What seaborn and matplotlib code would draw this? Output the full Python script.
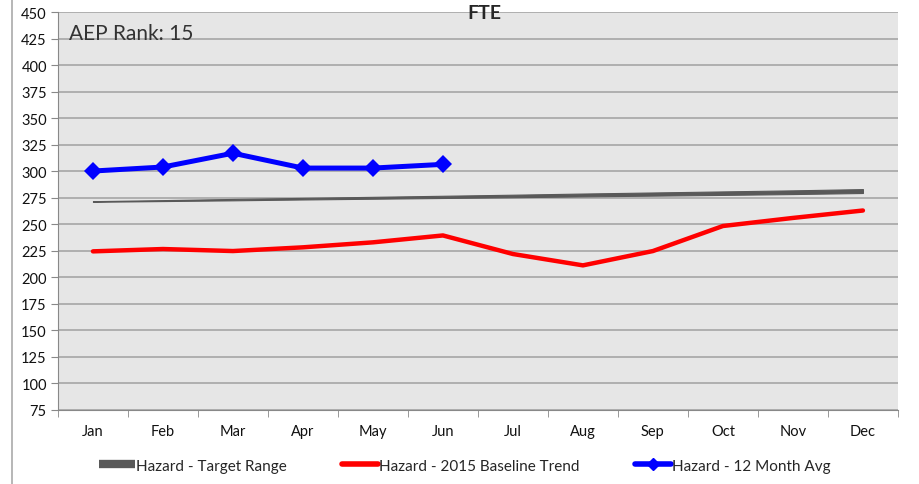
import numpy as np
import pandas as pd
import matplotlib
matplotlib.use("Agg")
import matplotlib.pyplot as plt
import seaborn as sns
from matplotlib.lines import Line2D

months = ["Jan", "Feb", "Mar", "Apr", "May", "Jun", "Jul", "Aug", "Sep", "Oct", "Nov", "Dec"]
baseline = [224.5, 226.7, 224.8, 228.3, 233.0, 239.5, 222.0, 211.3, 224.8, 248.4, 256.0, 263.0]
avg_12m = [300.2, 304.0, 317.0, 303.0, 303.0, 306.5]
target_low = [271.2, 271.9, 272.6, 273.4, 274.1, 274.8, 275.5, 276.3, 277.0, 277.7, 278.5, 279.5]
target_high = [271.8, 272.8, 273.9, 274.9, 275.9, 276.9, 277.9, 279.0, 280.0, 281.0, 282.0, 283.2]

sns.set_style("white")
plt.rcParams["font.family"] = ["Lato", "DejaVu Sans"]

fig = plt.figure(figsize=(9.2, 4.85), dpi=100)
ax = fig.add_axes([0.063, 0.1526, 0.913, 0.8204])
ax.set_facecolor("#e6e6e6")

x = np.arange(len(months))
df_base = pd.DataFrame({"x": x, "v": baseline})
df_avg = pd.DataFrame({"x": x[:len(avg_12m)], "v": avg_12m})

ax.fill_between(x, target_low, target_high, color="#595959", lw=0.8, zorder=2)
sns.lineplot(data=df_base, x="x", y="v", ax=ax, color="#ff0000", lw=3.2, zorder=3)
sns.lineplot(data=df_avg, x="x", y="v", ax=ax, color="#0000ff", lw=3.6,
             marker="D", markersize=9, markeredgewidth=0, zorder=4)

ax.set_xlim(-0.5, 11.5)
ax.set_ylim(75, 450)
ax.set_yticks(np.arange(75, 451, 25))
ax.yaxis.grid(True, color="#a6a6a6", lw=1.2)
ax.set_axisbelow(True)
ax.set_xticks(x)
ax.set_xticklabels(months, fontsize=10.5, color="#111111")
ax.set_xticks(np.arange(-0.5, 12, 1), minor=True)
ax.tick_params(axis="x", which="major", length=0, pad=10)
ax.tick_params(axis="x", which="minor", length=5, color="#888888", direction="out", bottom=True)
ax.tick_params(axis="y", length=5, color="#888888", direction="out", left=True,
               labelsize=10.5, labelcolor="#111111", pad=3)
ax.set_xlabel("")
ax.set_ylabel("")
for s in ["top", "right"]:
    ax.spines[s].set_visible(False)
ax.spines["left"].set_color("#888888")
ax.spines["bottom"].set_color("#888888")

ax.text(0.013, 0.948, "AEP Rank: 15", transform=ax.transAxes, fontsize=15,
        color="#333333", va="center", ha="left")
fig.text(0.527, 0.972, "FTE", fontsize=14, fontweight="bold", ha="center", va="center")

fig.add_artist(Line2D([0.013, 0.013], [0, 1], color="#aaaaaa", lw=1.2))

handles = [
    Line2D([], [], color="#595959", lw=6, solid_capstyle="butt"),
    Line2D([], [], color="#ff0000", lw=4),
    Line2D([], [], color="#0000ff", lw=4, marker="D", markersize=6),
]
labels = ["Hazard - Target Range", "Hazard - 2015 Baseline Trend", "Hazard - 12 Month Avg"]
fig.legend(handles, labels, loc="center", bbox_to_anchor=(0.505, 0.038), ncol=3,
           frameon=False, fontsize=11, handlelength=2.4, handletextpad=0.05, columnspacing=3.6)

fig.savefig("out.png", dpi=100)
